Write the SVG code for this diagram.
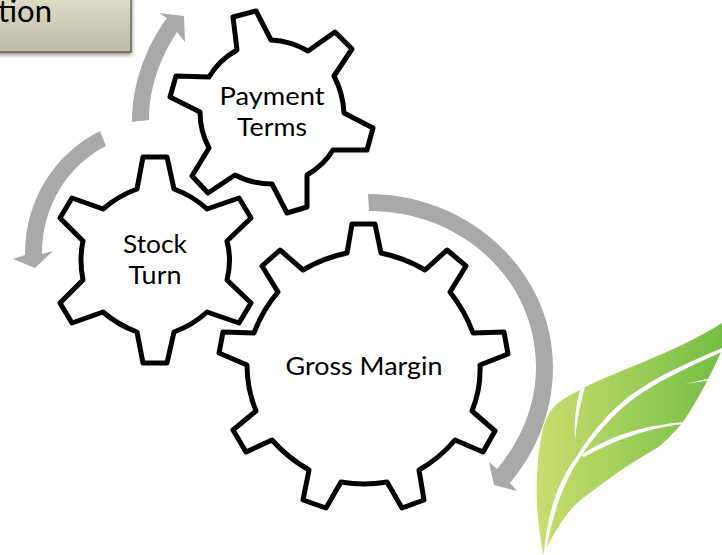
<svg xmlns="http://www.w3.org/2000/svg" width="722" height="555" viewBox="0 0 722 555">
<style>
.gear{fill:#fff;stroke:#000;stroke-width:5;stroke-linejoin:round}
.arrow{fill:#a9a9a9;stroke:none}
text{font-family:Lato,"Open Sans",sans-serif;font-size:25px;fill:#000;text-anchor:middle}
.vein{fill:#fff;stroke:none}
</style>
<defs>
<linearGradient id="box" x1="0" y1="0" x2="0" y2="1"><stop offset="0" stop-color="#e3e0cd"/><stop offset="1" stop-color="#bdbaa4"/></linearGradient>
<linearGradient id="leaf" gradientUnits="userSpaceOnUse" x1="536" y1="0" x2="722" y2="0"><stop offset="0" stop-color="#cade6e"/><stop offset="1" stop-color="#74be46"/></linearGradient>
<filter id="sh" x="-10%" y="-10%" width="125%" height="130%"><feGaussianBlur stdDeviation="2"/></filter>
</defs>
<g id="connectors">
<path class="arrow" d="M132 122C132 84 146 46 167 18L159 13L184 16L185 42L177 32C160 58 149 88 149 120Z"/>
<path class="arrow" d="M100 131C56 153 25 198 25 255L13 259L35 268L53 251L42 254C42 206 68 165 106 146Z"/>
<path class="arrow" d="M368 194C470 194 553 272 553 367C553 412 536 452 510 483L517 491L494 485L489 462L497 469C520 442 536 406 536 367C536 280 462 211 369 211Z"/>
</g>
<g id="box-node">
<rect x="-20" y="-10" width="152" height="65" fill="#444" opacity="0.6" filter="url(#sh)"/>
<rect x="-20" y="-10" width="151" height="62" fill="url(#box)" stroke="#4f4f44" stroke-width="1.2"/>
<text x="25" y="22" style="font-size:31px" textLength="54" lengthAdjust="spacingAndGlyphs">tion</text>
</g>
<g id="payment-terms">
<path class="gear" d="M233 17L256 11L271 40Q291 41 308 51L335 32L352 49L334 76Q343 93 344 113L373 128L367 150L333 150Q324 165 307 175L307 207L287 213L272 184Q252 184 235 175L208 193L192 176L209 148Q200 131 200 112L170 97L176 76L209 77Q219 60 237 50Z"/>
<text x="272" y="105" textLength="105" lengthAdjust="spacingAndGlyphs">Payment</text>
<text x="272" y="136" textLength="70" lengthAdjust="spacingAndGlyphs">Terms</text>
</g>
<g id="stock-turn">
<path class="gear" d="M143 157L167 157L174 189Q193 196 207 209L239 198L251 218L227 241Q232 260 227 280L251 303L239 323L207 312Q193 325 174 332L167 363L143 363L137 332Q118 325 103 312L72 323L60 303L83 280Q79 260 83 241L60 218L72 198L103 209Q118 196 137 189Z"/>
<text x="155" y="253" textLength="64" lengthAdjust="spacingAndGlyphs">Stock</text>
<text x="155" y="284" textLength="53" lengthAdjust="spacingAndGlyphs">Turn</text>
</g>
<g id="gross-margin">
<path class="gear" d="M352 224L375 224L381 253Q405 258 425 270L447 250L466 266L450 292Q465 311 473 333L504 332L508 354L480 365Q481 389 472 411L495 431L483 452L455 440Q440 458 419 470L424 500L402 508L387 482Q364 486 341 482L326 508L303 500L309 470Q288 458 272 440L246 452L233 430L256 411Q247 389 247 365L219 353L223 332L254 333Q262 311 278 292L262 266L280 250L303 270Q323 258 347 253Z"/>
<text x="364" y="375" textLength="157" lengthAdjust="spacingAndGlyphs">Gross Margin</text>
</g>
<g id="leaf-mark">
<path fill="url(#leaf)" d="M543 554C535 510 534 470 543 428C546 419 549 412 553 408C560 400 570 395 580 390L585 387C620 370 680 350 722 323L722 350C712 372 700 397 683 422C672 435 665 442 657 448C640 458 630 464 617 473C600 486 585 495 573 507C562 520 553 535 547 547Z"/>
<path class="vein" d="M544 552C547 515 558 480 577 456C590 434 615 404 640 389C665 372 695 360 722 348L722 352C695 364 668 376 642 393C618 408 594 436 580 458C562 484 551 520 546 552Z"/>
<path class="vein" d="M581 455C610 436 640 426 684 422L682 424C640 430 612 442 584 457Z"/>
<path class="vein" d="M580 390L585 387C580 405 577 420 575 440C574 420 576 405 580 390Z"/>
<path class="vein" d="M685 384L712 378L711 380Z"/>
</g>
</svg>
